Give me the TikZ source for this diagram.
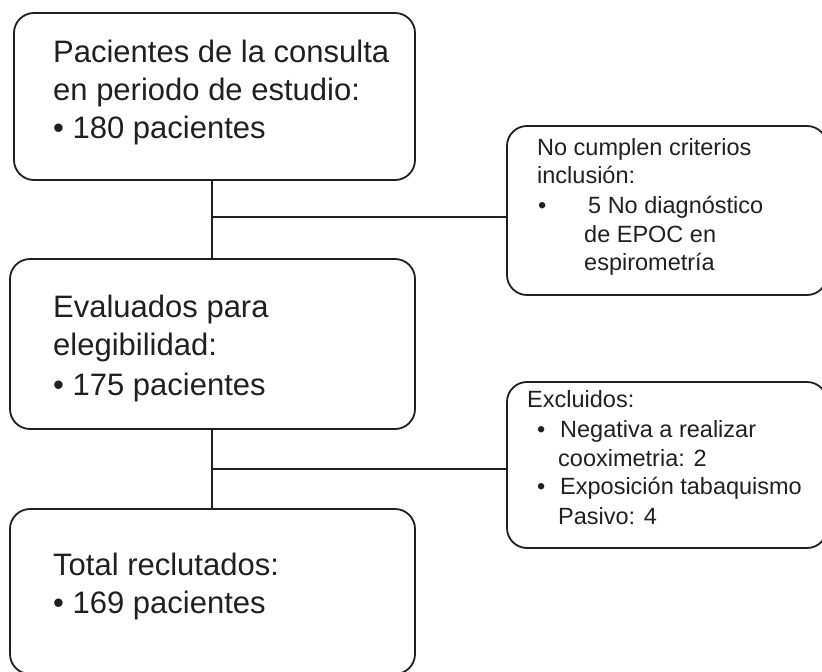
\documentclass[tikz,border=0pt]{standalone}
\usepackage{fontspec}
\setmainfont{Liberation Sans}
\definecolor{ink}{HTML}{231F20}
\begin{document}
\begin{tikzpicture}[x=1pt,y=-1pt,
  box/.style={draw=ink, line width=1.8pt, rounded corners=20pt, anchor=north west, inner sep=0pt, outer sep=0pt},
  conn/.style={draw=ink, line width=1.8pt},
  big/.style={anchor=base west, inner sep=0pt, text=ink, font=\fontsize{31}{39}\selectfont},
  small/.style={anchor=base west, inner sep=0pt, text=ink, font=\fontsize{23.5}{29}\selectfont}]
\useasboundingbox (0,0) rectangle (822,672);
% main boxes
\node[box, minimum width=401pt, minimum height=167pt] (b1) at (14,13) {};
\node[box, minimum width=405pt, minimum height=170pt] (b2) at (10,259) {};
\node[box, minimum width=405pt, minimum height=165pt] (b3) at (10,509) {};
% side boxes
\node[box, minimum width=320pt, minimum height=169pt] (r1) at (507,126) {};
\node[box, minimum width=320pt, minimum height=166pt] (r2) at (507,382) {};
% connectors
\coordinate (t1) at (212,180);
\coordinate (j1) at (212,217);
\coordinate (j2) at (212,469);
\draw[conn] (b1.south -| t1) -- (b2.north -| t1);
\draw[conn] (b2.south -| t1) -- (b3.north -| t1);
\draw[conn] (j1) -- (j1 -| r1.west);
\draw[conn] (j2) -- (j2 -| r2.west);
% texts box 1
\node[big] (a1) at (53,62) {Pacientes de la consulta};
\node[big] (a2) at (53,100) {en periodo de estudio:};
\node[big] (a3) at (53,138) {• 180 pacientes};
% box 2
\node[big] (c1) at (53,317) {Evaluados para};
\node[big] (c2) at (53,355) {elegibilidad:};
\node[big] (c3) at (53,395) {• 175 pacientes};
% box 3
\node[big] (d1) at (53,575) {Total reclutados:};
\node[big] (d2) at (53,613) {• 169 pacientes};
% side box 1
\node[small] (e1) at (537,155) {No cumplen criterios};
\node[small] (e2) at (537,183) {inclusión:};
\node[small] (e3) at (538,213) {•};
\node[small] (e4) at (588,213) {5 No diagnóstico};
\node[small] (e5) at (584,242) {de EPOC en};
\node[small] (e6) at (584,270) {espirometría};
% side box 2
\node[small] (f1) at (527,407) {Excluidos:};
\node[small] (f2) at (537,437) {•};
\node[small] (f3) at (560,437) {Negativa a realizar};
\node[small] (f4) at (558,466) {cooximetria: 2};
\node[small] (f5) at (537,494) {•};
\node[small] (f6) at (560,494) {Exposición tabaquismo};
\node[small] (f7) at (558,524) {Pasivo: 4};
\end{tikzpicture}
\end{document}
